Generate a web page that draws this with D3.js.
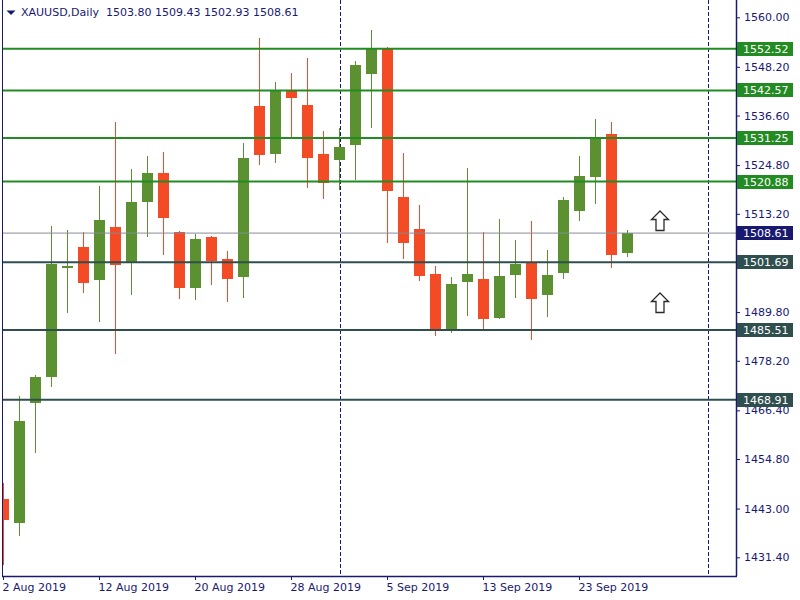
<!DOCTYPE html>
<html>
<head>
<meta charset="utf-8">
<script src="https://cdn.jsdelivr.net/npm/d3@7"></script>
<style>
  html, body { margin: 0; padding: 0; background: #ffffff; }
  svg { display: block; font-family: "DejaVu Sans", Verdana, sans-serif; }
</style>
</head>
<body>
<svg id="chart" width="800" height="600"></svg>
<script>
// ---------------- DATA ----------------
const symbolTitle = "XAUUSD,Daily";
const lastBarOHLC = ["1503.80", "1509.43", "1502.93", "1508.61"];

const dates = [
  "2 Aug", "5 Aug", "6 Aug", "7 Aug", "8 Aug", "9 Aug",
  "12 Aug", "13 Aug", "14 Aug", "15 Aug", "16 Aug",
  "19 Aug", "20 Aug", "21 Aug", "22 Aug", "23 Aug",
  "26 Aug", "27 Aug", "28 Aug", "29 Aug", "30 Aug",
  "2 Sep", "3 Sep", "4 Sep", "5 Sep", "6 Sep",
  "9 Sep", "10 Sep", "11 Sep", "12 Sep", "13 Sep",
  "16 Sep", "17 Sep", "18 Sep", "19 Sep", "20 Sep",
  "23 Sep", "24 Sep", "25 Sep", "26 Sep"
];
const open = [
  1445.28, 1439.64, 1468.22, 1474.41, 1500.30, 1505.30,
  1497.51, 1510.06, 1501.56, 1516.01, 1522.92,
  1508.87, 1495.53, 1507.68, 1502.44, 1498.15,
  1538.88, 1527.44, 1542.45, 1539.11, 1527.44,
  1526.02, 1529.59, 1546.50, 1552.45, 1517.20,
  1509.58, 1498.87, 1485.53, 1496.96, 1497.68,
  1488.39, 1498.63, 1501.49, 1493.87, 1499.10,
  1513.87, 1521.97, 1532.21, 1503.80
];
const high = [
  1449.00, 1469.81, 1474.81, 1510.30, 1509.35, 1508.87,
  1519.82, 1535.07, 1523.87, 1526.97, 1527.92,
  1509.00, 1508.39, 1507.92, 1504.34, 1530.06,
  1555.07, 1544.59, 1546.73, 1550.31, 1532.92,
  1533.64, 1549.59, 1556.98, 1552.93, 1527.68,
  1515.30, 1500.77, 1498.15, 1524.11, 1508.87,
  1511.96, 1506.96, 1511.49, 1504.58, 1517.20,
  1526.97, 1535.78, 1535.07, 1509.43
];
const low = [
  1429.50, 1436.54, 1456.31, 1472.03, 1489.65, 1494.41,
  1487.51, 1479.74, 1493.87, 1507.68, 1503.39,
  1492.91, 1492.67, 1496.25, 1492.20, 1493.15,
  1524.83, 1525.30, 1531.49, 1519.35, 1516.73,
  1518.87, 1521.25, 1533.64, 1506.25, 1502.44,
  1497.20, 1484.10, 1484.82, 1488.86, 1485.53,
  1488.20, 1493.15, 1483.15, 1488.63, 1497.68,
  1511.49, 1515.54, 1500.30, 1502.93
];
const close = [
  1440.35, 1463.86, 1474.34, 1501.25, 1500.77, 1496.79,
  1511.73, 1501.08, 1516.01, 1522.92, 1512.20,
  1495.53, 1507.20, 1501.96, 1497.68, 1526.49,
  1527.21, 1542.45, 1540.78, 1526.49, 1520.54,
  1529.11, 1548.64, 1552.45, 1518.63, 1506.25,
  1498.39, 1485.53, 1496.48, 1498.87, 1488.15,
  1498.39, 1501.25, 1492.91, 1498.63, 1516.49,
  1522.21, 1531.25, 1503.39, 1508.61
];

const xTickIndex = [0, 6, 12, 18, 24, 30, 36];
const xTickLabels = ["2 Aug 2019", "12 Aug 2019", "20 Aug 2019", "28 Aug 2019",
                     "5 Sep 2019", "13 Sep 2019", "23 Sep 2019"];
const yTickValues = [1560.00, 1548.20, 1536.60, 1524.80, 1513.20, 1501.40,
                     1489.80, 1478.20, 1466.40, 1454.80, 1443.00, 1431.40];

const resistanceLevels = [1552.52, 1542.57, 1531.25, 1520.88];
const supportLevels = [1501.69, 1485.51, 1468.91];
const currentPrice = 1508.61;
const separatorIndex = [21, 44];
const arrowIndex = [41, 41];
const arrowPrice = [1513.87, 1494.34];

// ---------------- LAYOUT ----------------
const svg = d3.select("#chart");
const plotLeft = 3, plotRight = 736, plotTop = 0, plotBottom = 576;
const navy = "#191970";
const upColor = "#5b9131";
const downColor = "#f24b26";
const greenLine = "#228b22";
const slate = "#2f4f4f";
const grayLine = "#868c96";

const x = d3.scaleLinear().domain([0, 39]).range([3.5, 627.5]);
const y = d3.scaleLinear().domain([1431.4, 1560]).range([557.3, 17.3]);

const bars = dates.map((d, i) => ({
  i, date: d, o: open[i], h: high[i], l: low[i], c: close[i]
}));

svg.append("defs").append("clipPath").attr("id", "plotClip")
  .append("rect")
  .attr("x", plotLeft).attr("y", plotTop)
  .attr("width", plotRight - plotLeft).attr("height", plotBottom - plotTop);

const plot = svg.append("g").attr("clip-path", "url(#plotClip)");

// period separators
plot.selectAll("line.sep").data(separatorIndex).enter().append("line")
  .attr("class", "sep")
  .attr("x1", d => Math.round(x(d)) + 0.5).attr("x2", d => Math.round(x(d)) + 0.5)
  .attr("y1", plotTop).attr("y2", plotBottom)
  .attr("stroke", navy).attr("stroke-width", 1)
  .attr("stroke-dasharray", "4,2");

// candles: wicks
plot.selectAll("rect.wick").data(bars).enter().append("rect")
  .attr("class", "wick")
  .attr("x", d => x(d.i) - 0.5)
  .attr("width", 1)
  .attr("y", d => y(d.h))
  .attr("height", d => Math.max(1, y(d.l) - y(d.h)))
  .attr("fill", d => d.c >= d.o ? upColor : downColor)
  .attr("shape-rendering", "crispEdges");

// candles: bodies
plot.selectAll("rect.body").data(bars).enter().append("rect")
  .attr("class", "body")
  .attr("x", d => x(d.i) - 5.5)
  .attr("width", 11)
  .attr("y", d => y(Math.max(d.o, d.c)))
  .attr("height", d => Math.max(2, Math.abs(y(d.o) - y(d.c))))
  .attr("fill", d => d.c >= d.o ? upColor : downColor)
  .attr("shape-rendering", "crispEdges");

// horizontal levels
function drawLevel(val, color, width) {
  plot.append("line")
    .attr("x1", plotLeft).attr("x2", plotRight)
    .attr("y1", y(val)).attr("y2", y(val))
    .attr("stroke", color).attr("stroke-width", width);
}
resistanceLevels.forEach(v => drawLevel(v, greenLine, 2));
supportLevels.forEach(v => drawLevel(v, slate, 2));
drawLevel(currentPrice, grayLine, 1);

// arrows
const arrowPath = "M0,0 L8.5,8.5 L4,8.5 L4,19.5 L-4,19.5 L-4,8.5 L-8.5,8.5 Z";
plot.selectAll("path.arrow").data(arrowIndex.map((d, k) => ({ i: d, p: arrowPrice[k] })))
  .enter().append("path")
  .attr("class", "arrow")
  .attr("d", arrowPath)
  .attr("transform", d => `translate(${x(d.i) + 0.5},${y(d.p)})`)
  .attr("fill", "#ffffff")
  .attr("stroke", "#2a2a2a")
  .attr("stroke-width", 1.3);

// frame lines
svg.append("line").attr("x1", 2.5).attr("x2", 2.5).attr("y1", 0).attr("y2", plotBottom)
  .attr("stroke", navy).attr("stroke-width", 1);

// y axis (right)
const yAxis = d3.axisRight(y).tickValues(yTickValues).tickFormat(d3.format(".2f"))
  .tickSize(4).tickPadding(4);
const gy = svg.append("g").attr("transform", `translate(${plotRight},0)`).call(yAxis);
gy.select(".domain").attr("d", `M0.5,0V${plotBottom}`).attr("stroke", navy).attr("stroke-width", 1.5);
gy.selectAll(".tick line").attr("stroke", navy);
gy.selectAll(".tick text").attr("fill", navy).style("font-size", "11px")
  .style("font-family", "'DejaVu Sans', Verdana, sans-serif");

// x axis (bottom)
const xAxis = d3.axisBottom(x).tickValues(xTickIndex)
  .tickFormat((d, k) => xTickLabels[k]).tickSize(4).tickPadding(3);
const gx = svg.append("g").attr("transform", `translate(0,${plotBottom})`).call(xAxis);
gx.select(".domain").attr("d", `M2,0.5H${plotRight + 1}`).attr("stroke", navy).attr("stroke-width", 1.5);
gx.selectAll(".tick line").attr("stroke", navy).attr("transform", "translate(-0.5,0)");
gx.selectAll(".tick text").attr("fill", navy).attr("text-anchor", "start")
  .attr("dx", -1.5)
  .style("font-size", "11px")
  .style("font-family", "'DejaVu Sans', Verdana, sans-serif");

// price labels on the axis
function priceLabel(val, bg) {
  const g = svg.append("g").attr("transform", `translate(737,${Math.round(y(val))})`);
  g.append("rect").attr("x", 0).attr("y", -7).attr("width", 56).attr("height", 14)
    .attr("fill", bg);
  g.append("text").attr("x", 6).attr("y", 0).attr("dy", "0.36em")
    .attr("fill", "#ffffff").style("font-size", "11px")
    .text(d3.format(".2f")(val));
}
resistanceLevels.forEach(v => priceLabel(v, greenLine));
supportLevels.forEach(v => priceLabel(v, slate));
priceLabel(currentPrice, navy);

// header
svg.append("path").attr("d", "M6.5,10.5 L15.5,10.5 L11,15 Z").attr("fill", navy);
svg.append("text").attr("x", 21).attr("y", 16).attr("fill", navy)
  .style("font-size", "11px")
  .text(symbolTitle + "  " + lastBarOHLC.join(" "))
  .attr("xml:space", "preserve");
</script>
</body>
</html>
